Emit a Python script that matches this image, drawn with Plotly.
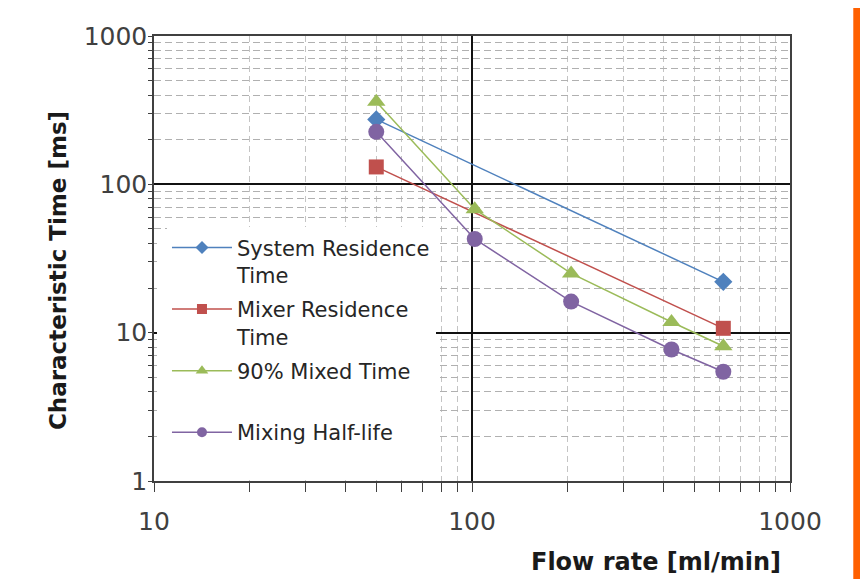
import plotly.graph_objects as go

# ---- data ----
flow_rate = [50, 102, 205, 424, 617]
system_residence = [274, None, None, None, 22.0]
mixer_residence = [131, None, None, None, 10.7]
mixed_90 = [360, 68, 25.1, 11.8, 8.1]
mixing_half_life = [226, 42.8, 16.2, 7.7, 5.45]

series_names = ["System Residence<br>Time", "Mixer Residence<br>Time",
                "90% Mixed Time<br> ", "Mixing Half-life<br> "]
series_values = [system_residence, mixer_residence, mixed_90, mixing_half_life]
series_colors = ["#4F81BD", "#C0504D", "#9BBB59", "#8064A2"]
series_symbols = ["diamond", "square", "triangle-up", "circle"]
series_sizes = [14, 15, 16, 16]
legend_sizes = [10, 10, 11, 10]

y_ticks = [1, 10, 100, 1000]
x_ticks = [10, 100, 1000]

fig = go.Figure()

for name, vals, col, sym, sz, lsz in zip(series_names, series_values, series_colors,
                                        series_symbols, series_sizes, legend_sizes):
    fig.add_trace(go.Scatter(
        x=flow_rate, y=vals, mode="lines+markers", connectgaps=True,
        line=dict(color=col, width=1.5),
        marker=dict(symbol=sym, size=sz, color=col),
        showlegend=False, legendgroup=name, name=name.replace("<br>", " ")))
    # legend entry (smaller marker, as in the reference legend)
    fig.add_trace(go.Scatter(
        x=[None], y=[None], mode="lines+markers",
        line=dict(color=col, width=1.5),
        marker=dict(symbol=sym, size=lsz, color=col),
        showlegend=True, legendgroup=name, name=name))

fig.update_xaxes(
    type="log", range=[1, 3],
    tickvals=x_ticks, ticktext=[str(v) for v in x_ticks],
    ticks="outside", ticklen=9, tickcolor="#404040",
    showgrid=True, gridcolor="#111111", gridwidth=1.5,
    showline=True, linecolor="#404040", linewidth=1.5, mirror=True,
    tickfont=dict(family="DejaVu Sans", size=25, color="#404040"),
    ticklabelstandoff=8,
    minor=dict(dtick="D1", ticks="outside", ticklen=9, tickcolor="#404040",
               showgrid=True, gridcolor="#c4c4c4", griddash="6px,4px", gridwidth=1),
    zeroline=False,
)
fig.update_yaxes(
    type="log", range=[0, 3],
    tickvals=y_ticks, ticktext=[str(v) for v in y_ticks],
    ticks="",
    showgrid=True, gridcolor="#111111", gridwidth=1.5,
    showline=True, linecolor="#404040", linewidth=1.5, mirror=True,
    tickfont=dict(family="DejaVu Sans", size=25, color="#404040"),
    minor=dict(dtick="D1", ticks="outside", ticklen=4, tickcolor="#404040",
               showgrid=True, gridcolor="#b0b0b0", griddash="7px,4px", gridwidth=1),
    zeroline=False,
)

fig.update_layout(
    width=860, height=571, autosize=False,
    margin=dict(l=146, r=78, t=28, b=98),
    paper_bgcolor="white", plot_bgcolor="white",
    legend=dict(x=0.0204, y=0.57, xanchor="left", yanchor="top",
                bgcolor="white", borderwidth=0, valign="top",
                tracegroupgap=4, itemwidth=60,
                font=dict(family="DejaVu Sans", size=21, color="#262626")),
    annotations=[
        dict(text="<b>Flow rate [ml/min]</b>", xref="paper", yref="paper",
             x=0.789, y=-0.182, xanchor="center", yanchor="middle", showarrow=False,
             font=dict(family="DejaVu Sans", size=24, color="#1a1a1a")),
        dict(text="<b>Characteristic Time [ms]</b>", xref="paper", yref="paper",
             x=-0.151, y=0.474, xanchor="center", yanchor="middle", showarrow=False,
             textangle=-90,
             font=dict(family="DejaVu Sans", size=23, color="#1a1a1a")),
    ],
    shapes=[
        dict(type="rect", xref="paper", yref="paper",
             x0=0.0047, x1=0.03, y0=0.0135, y1=0.5596,
             fillcolor="white", line=dict(width=0), layer="above"),
        dict(type="rect", xref="paper", yref="paper",
             x0=1.0995, x1=1.2, y0=-0.3, y1=1.2,
             fillcolor="#FF6000", line=dict(width=0), layer="above"),
    ],
)

fig.write_html("out.html")
